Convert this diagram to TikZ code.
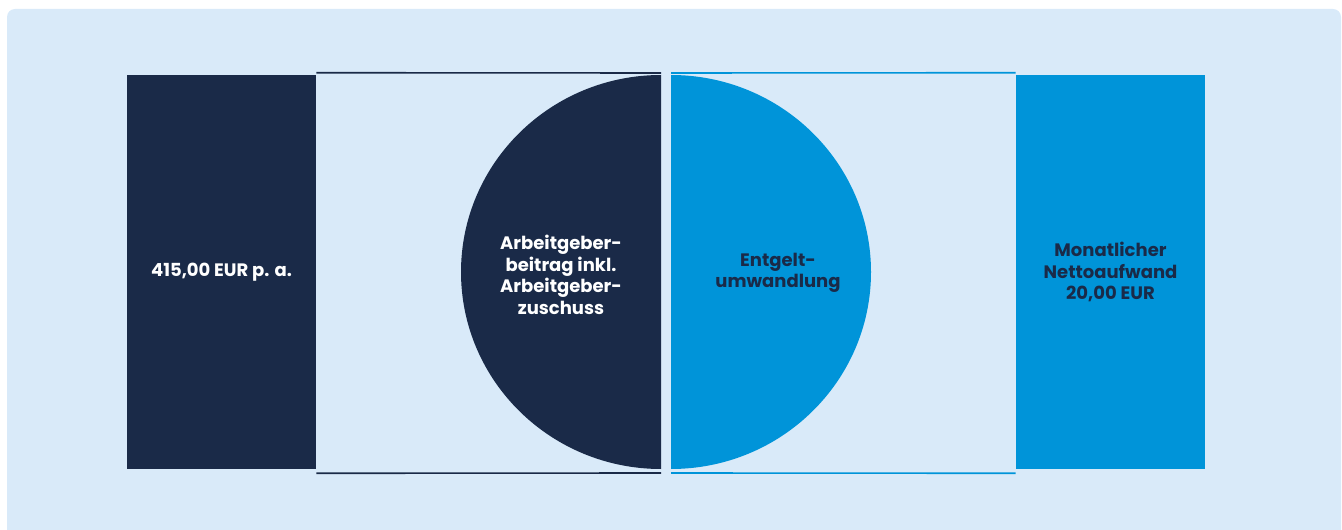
\documentclass[tikz,border=0pt]{standalone}
\usepackage{fontspec}
\setmainfont{Poppins}
\usepackage{xcolor}
\definecolor{navy}{HTML}{1A2A48}
\definecolor{skyblue}{HTML}{0094D9}
\definecolor{panel}{HTML}{D9EAF9}
\tikzset{
  box/.style={minimum width=141.75pt, minimum height=295.5pt, inner sep=0pt},
  label/.style={align=center, font=\fontsize{13.5}{16.2}\selectfont\bfseries},
  rim/.style={line width=1.2pt}
}

\begin{document}
\begin{tikzpicture}[x=0.75pt, y=0.75pt]
\useasboundingbox (0,0) rectangle (1342,529);
\fill[panel, rounded corners=6pt] (7,-10) rectangle (1341,520);

\node[box, fill=navy] (annual) at (221.5,257) {};
\node[box, fill=skyblue] (monthly) at (1110.5,257) {};

\coordinate (left top) at (661,456);
\coordinate (left bottom) at (661,56);
\coordinate (right top) at (671,456);
\coordinate (right bottom) at (671,56);

\fill[navy] (661,454) arc (90:270:200 and 197) -- cycle;
\fill[skyblue] (671,60) arc (-90:90:200 and 197) -- cycle;

\draw[rim, navy] ([yshift=1.5pt]annual.north east) -- (left top);
\draw[rim, navy] ([yshift=-3pt]annual.south east) -- (left bottom);
\draw[rim, skyblue] (right top) -- ([yshift=1.5pt]monthly.north west);
\draw[rim, skyblue] (right bottom) -- ([yshift=-3pt]monthly.south west);

\node[label, text=white] at (annual.center) {415,00 EUR p. a.};
\node[label, text=white] (employer) at (561,254) {Arbeitgeber-\\beitrag inkl.\\Arbeitgeber-\\zuschuss};
\node[label, text=navy] (conversion) at (778,256) {Entgelt-\\umwandlung};
\node[label, text=navy] at (monthly.center) {Monatlicher\\Nettoaufwand\\20,00 EUR};
\end{tikzpicture}
\end{document}
